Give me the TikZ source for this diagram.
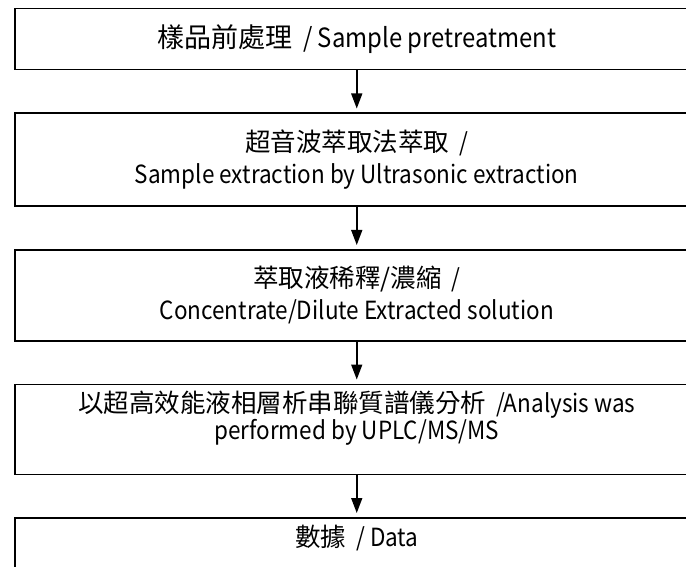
\documentclass[tikz,border=0pt]{standalone}
\usepackage{fontspec}
\setmainfont{Noto Sans CJK TC}[FakeStretch=0.9]
\newfontfamily\cjk{Noto Sans CJK TC}[Scale=1.02]
\usetikzlibrary{positioning,arrows.meta}

\begin{document}
\begin{tikzpicture}[
  x=1pt, y=-1pt,
  font=\fontsize{25}{32}\selectfont,
  node distance=42pt,
  block/.style={draw, line width=1.5pt, minimum width=684pt, align=center, inner sep=0pt},
  arr/.style={-{Triangle[width=11pt,length=15pt]}, line width=1.5pt, shorten >=4pt}
]
\useasboundingbox (0,0) rectangle (686,567);

% nodes
\node[block, minimum height=61pt, anchor=north west, font=\fontsize{26.5}{32}\selectfont] (pretreat) at (14,8) {{\cjk 樣品前處理} \ / Sample pretreatment};
\node[block, minimum height=93pt, below=of pretreat] (extract) {{\cjk 超音波萃取法萃取} \ /\\Sample extraction by Ultrasonic extraction};
\node[block, minimum height=91pt, below=of extract] (dilute) {{\cjk 萃取液稀釋/濃縮} \ /\\Concentrate/Dilute Extracted solution};
\node[block, minimum height=90pt, below=of dilute, font=\fontsize{25}{24}\selectfont, text depth=28pt] (analysis) {{\cjk 以超高效能液相層析串聯質譜儀分析} \ /Analysis was\\performed by UPLC/MS/MS};
\node[block, minimum height=90pt, below=of analysis, text depth=54pt] (data) {{\cjk 數據} \ / Data};

% arrows
\draw[arr] (pretreat) -- (extract);
\draw[arr] (extract) -- (dilute);
\draw[arr] (dilute) -- (analysis);
\draw[arr] (analysis) -- (data);

\end{tikzpicture}
\end{document}
